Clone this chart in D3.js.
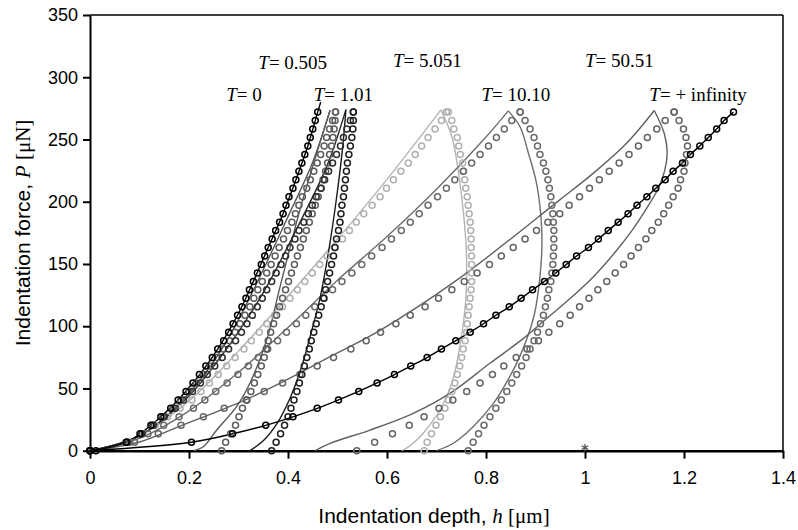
<!DOCTYPE html>
<html><head><meta charset="utf-8">
<script src="https://cdn.jsdelivr.net/npm/d3@7"></script>
<style>body{margin:0;background:#fff} svg{display:block}</style>
</head><body>
<svg id="c" width="798" height="530"></svg>
<script>
// ---------- axis ticks ----------
const xTicks = [0, 0.2, 0.4, 0.6, 0.8, 1, 1.2, 1.4];
const xTickLabels = ["0", "0.2", "0.4", "0.6", "0.8", "1", "1.2", "1.4"];
const yTicks = [0, 50, 100, 150, 200, 250, 300, 350];
const yTickLabels = ["0", "50", "100", "150", "200", "250", "300", "350"];

// ---------- marker force levels (P, µN), shared by every circle series ----------
const markerP = [0, 6.8, 13.6, 20.4, 27.2, 34, 40.8, 47.6, 54.4, 61.2, 68, 74.8, 81.6, 88.4, 95.2, 102,
  108.8, 115.6, 122.4, 129.2, 136, 142.8, 149.6, 156.4, 163.2, 170, 176.8, 183.6, 190.4, 197.2, 204,
  210.8, 217.6, 224.4, 231.2, 238, 244.8, 251.6, 258.4, 265.2, 272];

// ---------- circle series: depth h (µm) at each markerP ----------
const mT0 = [0, 0.073, 0.101, 0.123, 0.143, 0.163, 0.178, 0.194, 0.208, 0.221, 0.234, 0.247, 0.258, 0.270, 0.280, 0.289,
  0.298, 0.307, 0.315, 0.322, 0.330, 0.338, 0.346, 0.353, 0.360, 0.368, 0.375, 0.383, 0.390, 0.396, 0.402,
  0.410, 0.416, 0.422, 0.428, 0.434, 0.440, 0.445, 0.450, 0.455, 0.460];
const mT0505Load = [0, 0.074, 0.103, 0.126, 0.147, 0.168, 0.183, 0.200, 0.215, 0.229, 0.243, 0.257, 0.269, 0.282, 0.293, 0.303,
  0.313, 0.323, 0.331, 0.339, 0.348, 0.357, 0.366, 0.374, 0.382, 0.391, 0.399, 0.408, 0.415, 0.422, 0.429,
  0.438, 0.445, 0.452, 0.459, 0.466, 0.473, 0.478, 0.484, 0.490, 0.496];
const mT0505Unload = [0.266, 0.274, 0.284, 0.294, 0.301, 0.308, 0.316, 0.325, 0.332, 0.339, 0.346, 0.352, 0.356, 0.360, 0.365, 0.371,
  0.377, 0.383, 0.389, 0.395, 0.401, 0.407, 0.413, 0.419, 0.425, 0.431, 0.437, 0.443, 0.449, 0.455, 0.461,
  0.466, 0.471, 0.476, 0.480, 0.484, 0.488, 0.491, 0.493, 0.495, 0.496];
const mT101Load = [0, 0.075, 0.105, 0.128, 0.150, 0.172, 0.189, 0.207, 0.223, 0.237, 0.252, 0.267, 0.280, 0.294, 0.306, 0.317,
  0.328, 0.338, 0.348, 0.357, 0.367, 0.376, 0.386, 0.395, 0.404, 0.414, 0.422, 0.432, 0.441, 0.449, 0.457,
  0.467, 0.474, 0.482, 0.490, 0.498, 0.506, 0.512, 0.519, 0.526, 0.532];
const mT101Unload = [0.367, 0.376, 0.385, 0.393, 0.400, 0.406, 0.412, 0.418, 0.423, 0.428, 0.433, 0.438, 0.443, 0.447, 0.452, 0.457,
  0.462, 0.467, 0.472, 0.476, 0.480, 0.484, 0.488, 0.492, 0.495, 0.498, 0.502, 0.505, 0.507, 0.509, 0.512,
  0.514, 0.516, 0.518, 0.520, 0.523, 0.526, 0.529, 0.531, 0.532, 0.532];
const mT5051Load = [0, 0.075, 0.107, 0.132, 0.157, 0.182, 0.206, 0.224, 0.241, 0.259, 0.276, 0.293, 0.311, 0.326, 0.342, 0.357,
  0.373, 0.389, 0.404, 0.419, 0.434, 0.449, 0.464, 0.479, 0.494, 0.510, 0.524, 0.538, 0.553, 0.570, 0.586,
  0.599, 0.613, 0.628, 0.643, 0.657, 0.670, 0.683, 0.697, 0.710, 0.720];
const mT5051Unload = [0.675, 0.681, 0.690, 0.699, 0.708, 0.717, 0.724, 0.731, 0.737, 0.742, 0.747, 0.751, 0.754, 0.758, 0.761, 0.762,
  0.764, 0.766, 0.768, 0.770, 0.771, 0.771, 0.771, 0.771, 0.770, 0.770, 0.769, 0.768, 0.766, 0.764, 0.762,
  0.759, 0.757, 0.755, 0.753, 0.748, 0.745, 0.742, 0.735, 0.731, 0.724];
const mT1010Load = [0, 0.080, 0.117, 0.149, 0.180, 0.209, 0.232, 0.254, 0.277, 0.299, 0.320, 0.340, 0.359, 0.379, 0.397, 0.417,
  0.436, 0.454, 0.473, 0.490, 0.509, 0.529, 0.549, 0.569, 0.590, 0.609, 0.629, 0.647, 0.665, 0.683, 0.702,
  0.720, 0.737, 0.754, 0.771, 0.788, 0.805, 0.821, 0.837, 0.852, 0.869];
const mT1010Unload = [0.764, 0.774, 0.785, 0.796, 0.808, 0.820, 0.831, 0.842, 0.852, 0.862, 0.872, 0.881, 0.889, 0.897, 0.904, 0.910,
  0.916, 0.920, 0.924, 0.927, 0.931, 0.933, 0.935, 0.936, 0.937, 0.937, 0.937, 0.936, 0.935, 0.933, 0.931,
  0.928, 0.925, 0.921, 0.916, 0.909, 0.904, 0.897, 0.889, 0.879, 0.869];
const mT5051bLoad = [0, 0.090, 0.138, 0.184, 0.229, 0.271, 0.317, 0.352, 0.389, 0.424, 0.459, 0.492, 0.527, 0.558, 0.587, 0.618,
  0.647, 0.677, 0.704, 0.731, 0.756, 0.782, 0.807, 0.831, 0.855, 0.879, 0.902, 0.925, 0.949, 0.968, 0.989,
  1.009, 1.029, 1.049, 1.069, 1.089, 1.108, 1.126, 1.145, 1.162, 1.180];
const mT5051bUnload = [0.539, 0.575, 0.611, 0.645, 0.675, 0.705, 0.733, 0.761, 0.788, 0.813, 0.836, 0.861, 0.883, 0.906, 0.927, 0.949,
  0.970, 0.989, 1.008, 1.026, 1.044, 1.061, 1.078, 1.093, 1.108, 1.123, 1.135, 1.148, 1.159, 1.169, 1.178,
  1.188, 1.193, 1.200, 1.202, 1.205, 1.207, 1.204, 1.199, 1.190, 1.180];
const mTinf = [0, 0.205, 0.288, 0.355, 0.410, 0.459, 0.502, 0.543, 0.580, 0.615, 0.648, 0.681, 0.710, 0.739, 0.768, 0.795,
  0.820, 0.847, 0.871, 0.894, 0.918, 0.941, 0.962, 0.983, 1.007, 1.027, 1.047, 1.067, 1.087, 1.105, 1.125,
  1.143, 1.162, 1.178, 1.197, 1.213, 1.232, 1.249, 1.266, 1.281, 1.300];
const extraCircle = [[0.012, 0]];
const starPoint = [[1.0, 0]];

// ---------- model curves: [h, P] ----------
const lT0 = [[0,0],[0.073,6.8],[0.143,27.2],[0.208,54.4],[0.258,81.6],[0.298,108.8],[0.33,136],[0.36,163.2],[0.39,190.4],[0.416,217.6],[0.44,244.8],[0.46,272],[0.466,280]];
const lT0505Load = [[0,0],[0.1,12],[0.2,46],[0.27,84],[0.33,129],[0.4,188],[0.45,232],[0.485,273.6]];
const lT0505Unload = [[0.485,273.6],[0.455,235],[0.424,193.3],[0.384,131.8],[0.357,89],[0.323,54.2],[0.296,35.4],[0.256,16.6],[0.229,3.2],[0.21,0]];
const lT101Load = [[0,0],[0.1,12],[0.2,44],[0.28,84],[0.35,127],[0.43,188],[0.48,230],[0.517,274]];
const lT101Unload = [[0.517,274],[0.51,242],[0.497,200],[0.482,160],[0.466,125],[0.447,95],[0.428,68],[0.405,43],[0.378,22],[0.35,8],[0.323,0]];
const lT5051Load = [[0,0],[0.1,12],[0.2,40],[0.3,80],[0.4,124],[0.5,170],[0.6,218],[0.709,273.8]];
const lT5051Unload = [[0.709,273.8],[0.731,252.4],[0.742,230],[0.752,200],[0.759,170],[0.761,148],[0.759,120],[0.749,88],[0.731,54.2],[0.707,32.7],[0.673,14],[0.65,5],[0.63,0]];
const lT1010Load = [[0,0],[0.1,10],[0.2,32],[0.3,63],[0.4,99],[0.5,137],[0.6,172],[0.7,210],[0.8,252],[0.845,273]];
const lT1010Unload = [[0.845,273],[0.869,260],[0.885,240],[0.902,215],[0.911,188],[0.913,165],[0.909,140],[0.898,110],[0.874,81],[0.848,59.5],[0.815,38],[0.774,19.3],[0.734,6],[0.70,0]];
const lT5051bLoad = [[0,0],[0.1,7],[0.182,19.8],[0.313,40.7],[0.39,55.5],[0.485,75.5],[0.586,96.7],[0.741,137],[0.949,201.5],[1.017,223],[1.084,247],[1.14,273.3]];
const lT5051bUnload = [[1.14,273.3],[1.16,255],[1.166,240],[1.161,225],[1.147,210],[1.125,195],[1.097,178],[1.062,160],[1.02,141],[0.975,124],[0.925,107],[0.875,90],[0.808,70.2],[0.727,46],[0.653,30],[0.566,16.6],[0.485,5.9],[0.455,0]];

// ---------- annotations ----------
const labels = [
  {v: "0", h: 0.275, P: 281},
  {v: "0.505", h: 0.340, P: 307},
  {v: "1.01", h: 0.452, P: 281},
  {v: "5.051", h: 0.612, P: 308},
  {v: "10.10", h: 0.791, P: 281},
  {v: "50.51", h: 1.000, P: 308},
  {v: "+ infinity", h: 1.130, P: 281}
];

// ---------- drawing ----------
const svg = d3.select("#c");
const x = d3.scaleLinear().domain([0, 1.4]).range([90, 783]);
const y = d3.scaleLinear().domain([0, 350]).range([450.7, 15]);

// frame
svg.append("line").attr("x1", x(0)).attr("x2", x(1.4)).attr("y1", y(350)).attr("y2", y(350))
  .attr("stroke", "#000").attr("stroke-width", 1.5);
svg.append("line").attr("x1", x(1.4)).attr("x2", x(1.4)).attr("y1", y(350)).attr("y2", y(0))
  .attr("stroke", "#000").attr("stroke-width", 1.5);

const xAxis = d3.axisBottom(x).tickValues(xTicks).tickFormat((d, i) => xTickLabels[i])
  .tickSize(8).tickSizeOuter(0).tickPadding(13);
const gx = svg.append("g").attr("transform", `translate(0,${y(0)})`).call(xAxis);
gx.select(".domain").attr("stroke-width", 2.5);
gx.selectAll(".tick line").attr("stroke-width", 2);
gx.selectAll("text").attr("font-family", "'Liberation Sans', Arial, sans-serif").attr("font-size", 18).attr("fill", "#000");

const yAxis = d3.axisLeft(y).tickValues(yTicks).tickFormat((d, i) => yTickLabels[i])
  .tickSize(7).tickSizeOuter(0).tickPadding(5);
const gy = svg.append("g").attr("transform", `translate(${x(0)},0)`).call(yAxis);
gy.select(".domain").attr("stroke-width", 2);
gy.selectAll(".tick line").attr("stroke-width", 2);
gy.selectAll("text").attr("font-family", "'Liberation Sans', Arial, sans-serif").attr("font-size", 18).attr("fill", "#000");

// curves
const line = d3.line().x(d => x(d[0])).y(d => y(d[1])).curve(d3.curveCatmullRom.alpha(0.5));
const curves = [
  [lT5051Load, "#b4b4b4"], [lT5051Unload, "#b4b4b4"],
  [lT1010Load, "#6e6e6e"], [lT1010Unload, "#6e6e6e"],
  [lT5051bLoad, "#606060"], [lT5051bUnload, "#606060"],
  [lT0505Load, "#585858"], [lT0505Unload, "#585858"],
  [lT101Load, "#262626"], [lT101Unload, "#1a1a1a"],
  [lT0, "#000"]
];
curves.forEach(([data, col]) => {
  svg.append("path").datum(data).attr("d", line).attr("fill", "none")
    .attr("stroke", col).attr("stroke-width", 1.4);
});
const tinfPts = markerP.map((p, i) => [mTinf[i], p]);
svg.append("path").datum(tinfPts).attr("d", line).attr("fill", "none")
  .attr("stroke", "#000").attr("stroke-width", 1.4);

// circles
const circleSets = [
  [mT5051Load, "#b0b0b0"], [mT5051Unload, "#b0b0b0"],
  [mT1010Load, "#6a6a6a"], [mT1010Unload, "#6a6a6a"],
  [mT5051bLoad, "#646464"], [mT5051bUnload, "#646464"],
  [mT0505Load, "#5c5c5c"], [mT0505Unload, "#5c5c5c"],
  [mT101Load, "#2e2e2e"], [mT101Unload, "#1e1e1e"],
  [mT0, "#000"], [mTinf, "#000"]
];
circleSets.forEach(([hs, col]) => {
  svg.append("g").selectAll("circle").data(markerP.map((p, i) => [hs[i], p])).join("circle")
    .attr("cx", d => x(d[0])).attr("cy", d => y(d[1])).attr("r", 3)
    .attr("fill", "none").attr("stroke", col).attr("stroke-width", 1.5);
});
svg.append("g").selectAll("circle").data(extraCircle).join("circle")
  .attr("cx", d => x(d[0])).attr("cy", d => y(d[1])).attr("r", 3)
  .attr("fill", "none").attr("stroke", "#000").attr("stroke-width", 1.5);
const starSym = d3.symbol().type(d3.symbolAsterisk || d3.symbolCross).size(40);
svg.append("g").selectAll("path").data(starPoint).join("path")
  .attr("transform", d => `translate(${x(d[0])},${y(d[1]) - 3})`)
  .attr("d", starSym).attr("fill", "none").attr("stroke", "#555").attr("stroke-width", 1.3);

// T labels
const lab = svg.append("g").attr("font-family", "'Liberation Serif', 'Times New Roman', serif")
  .attr("font-size", 19).attr("fill", "#000");
labels.forEach(l => {
  const t = lab.append("text").attr("x", x(l.h)).attr("y", y(l.P));
  t.append("tspan").attr("font-style", "italic").text("T");
  t.append("tspan").text("= " + l.v);
});

// axis titles
const xt = svg.append("text").attr("x", 434).attr("y", 523).attr("text-anchor", "middle")
  .attr("font-size", 21).attr("fill", "#000").attr("font-family", "'Liberation Sans', Arial, sans-serif");
xt.append("tspan").text("Indentation depth, ");
xt.append("tspan").attr("font-family", "'Liberation Serif', serif").attr("font-style", "italic").text("h");
xt.append("tspan").attr("font-family", "'Liberation Serif', serif").text(" [μm]");

const yt = svg.append("text").attr("transform", "translate(30,233) rotate(-90)").attr("text-anchor", "middle")
  .attr("font-size", 21).attr("fill", "#000").attr("font-family", "'Liberation Sans', Arial, sans-serif");
yt.append("tspan").text("Indentation force, ");
yt.append("tspan").attr("font-family", "'Liberation Serif', serif").attr("font-style", "italic").text("P");
yt.append("tspan").attr("font-family", "'Liberation Serif', serif").text(" [μN]");
</script>
</body></html>
